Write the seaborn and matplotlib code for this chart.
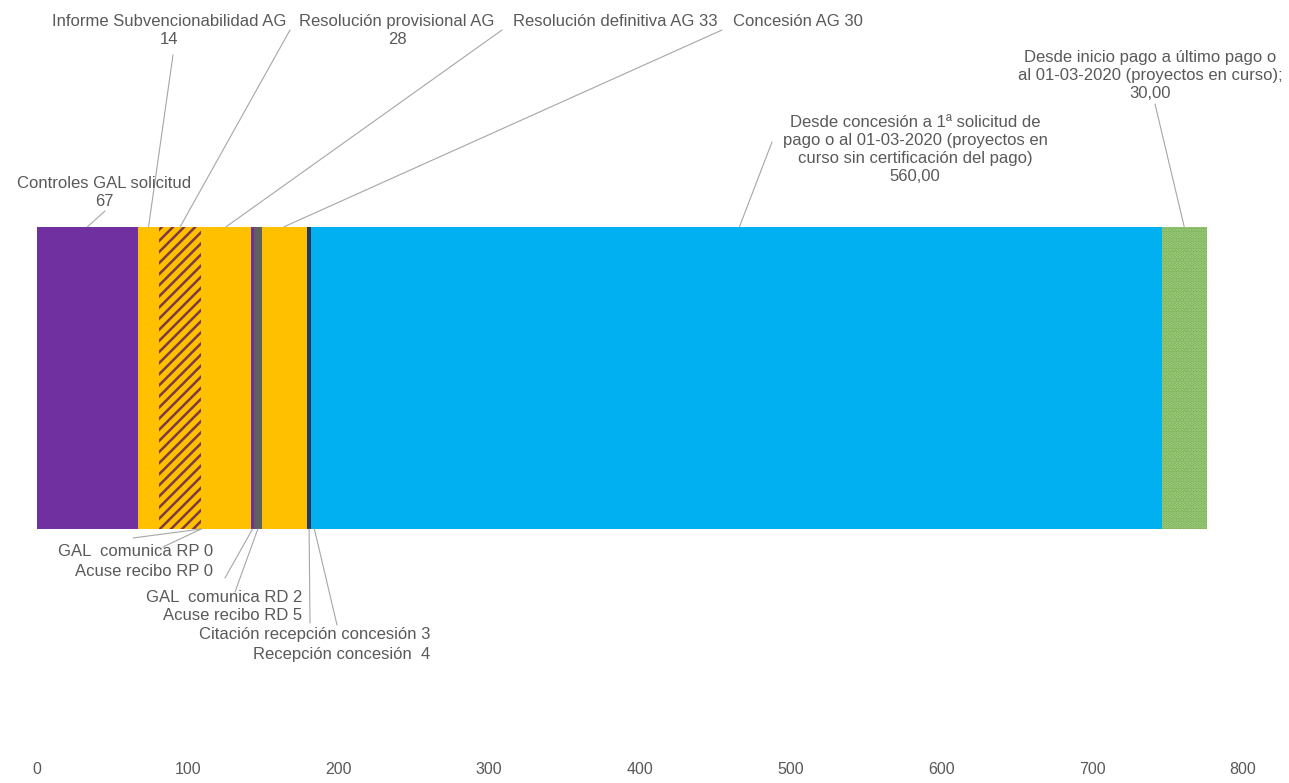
import numpy as np
import pandas as pd
import seaborn as sns
import matplotlib.pyplot as plt

# fases del procedimiento (dias)
fases = ['Controles GAL solicitud', 'Informe Subvencionabilidad AG',
         'Resolución provisional AG', 'GAL  comunica RP', 'Acuse recibo RP',
         'Resolución definitiva AG', 'GAL  comunica RD', 'Acuse recibo RD',
         'Concesión AG', 'Citación recepción concesión', 'Recepción concesión',
         'Desde concesión a 1ª solicitud de pago', 'Desde inicio pago a último pago']
dias = [67, 14, 28, 0, 0, 33, 2, 5, 30, 3, 4, 560, 30]
colores = ['#7030A0', '#FFC000', '#FFC000', '#FFC000', '#FFC000', '#FFC000', '#7030A0',
           '#606060', '#FFC000', '#1F3864', '#00B0F0', '#00B0F0', '#70AD47']
tramas = ['', '', '///', '', '', '', '', '', '', '', '', '', '.....']
color_trama = ['none', 'none', '#7E3A44', 'none', 'none', 'none', 'none', 'none',
               'none', 'none', 'none', 'none', '#A8D08D']

etiquetas = ['Controles GAL solicitud\n67', 'Informe Subvencionabilidad AG\n14',
             'Resolución provisional AG\n28', 'GAL  comunica RP 0', 'Acuse recibo RP 0',
             'Resolución definitiva AG 33', 'GAL  comunica RD 2', 'Acuse recibo RD 5',
             'Concesión AG 30', 'Citación recepción concesión 3', 'Recepción concesión  4',
             'Desde concesión a 1ª solicitud de\npago o al 01-03-2020 (proyectos en\ncurso sin certificación del pago)\n560,00',
             'Desde inicio pago a último pago o\nal 01-03-2020 (proyectos en curso);\n30,00']

df = pd.DataFrame({'fase': fases, 'dias': dias})
df['fin'] = df['dias'].cumsum()
df['inicio'] = df['fin'] - df['dias']
df['medio'] = (df['inicio'] + df['fin']) / 2
df['barra'] = 'Plazo'

sns.set_style('white')
plt.rcParams['font.family'] = ['Liberation Sans', 'DejaVu Sans']
plt.rcParams['hatch.linewidth'] = 1.8

W, H = 1289, 783
fig = plt.figure(figsize=(W / 100, H / 100), dpi=100)
ax = fig.add_axes([37 / W, 1 - 750 / H, 1206 / W, 750 / H])

# barras apiladas: se dibuja el acumulado de mayor a menor
for i in reversed(range(len(df))):
    sub = df.iloc[[i]]
    sns.barplot(data=sub, x='fin', y='barra', orient='h', ax=ax, color=colores[i],
                saturation=1, width=0.8, linewidth=0, edgecolor=color_trama[i],
                hatch=tramas[i] or None, errorbar=None)

ax.set_xlim(0, 800)
ax.set_ylim(0.985, -1.0)
ax.set_xticks(np.arange(0, 801, 100))
ax.set_ylabel('')
ax.set_xlabel('')
ax.set_yticks([])
for lab in ax.get_xticklabels():
    lab.set_family(['Liberation Sans Narrow', 'Liberation Sans'])
ax.tick_params(axis='x', length=0, pad=9, labelsize=11.5, labelcolor='#595959')
sns.despine(ax=ax, left=True, bottom=True)

gris = '#595959'
linea = '#A6A6A6'


def fp(x, y):
    return (x / W, 1 - y / H)


# texto: (indice, x, y, ha, va)
pos_texto = [(0, 104, 176, 'center', 'top'), (1, 169, 14, 'center', 'top'),
             (2, 397, 14, 'center', 'top'), (5, 513, 14, 'left', 'top'),
             (8, 733, 14, 'left', 'top'), (11, 915, 115, 'center', 'top'),
             (12, 1150, 50, 'center', 'top'),
             (3, 213, 552, 'right', 'center'), (4, 213, 572, 'right', 'center'),
             (6, 302, 597, 'right', 'center'), (7, 302, 616, 'right', 'center'),
             (9, 430, 635, 'right', 'center'), (10, 430, 655, 'right', 'center')]
for i, x, y, ha, va in pos_texto:
    fig.text(*fp(x, y), etiquetas[i], ha=ha, va=va, color=gris, fontsize=12,
             linespacing=1.25, multialignment='center' if ha == 'center' else ha)

# lineas guia: (indice, x, y, borde)
guias = [(0, 105, 211, -0.4), (1, 173, 55, -0.4), (2, 290, 30, -0.4),
         (5, 502, 30, -0.4), (8, 722, 30, -0.4), (11, 772, 142, -0.4),
         (12, 1155, 104, -0.4),
         (3, 133, 538, 0.4), (4, 163, 547, 0.4), (6, 225, 578, 0.4),
         (7, 235, 592, 0.4), (9, 310, 623, 0.4), (10, 337, 625, 0.4)]
for i, x, y, borde in guias:
    ax.annotate('', xy=(df['medio'][i], borde), xycoords='data',
                xytext=fp(x, y), textcoords='figure fraction',
                arrowprops=dict(arrowstyle='-', color=linea, lw=0.8,
                                shrinkA=0, shrinkB=0), annotation_clip=False)

fig.savefig('out.png', dpi=100, facecolor='white')
